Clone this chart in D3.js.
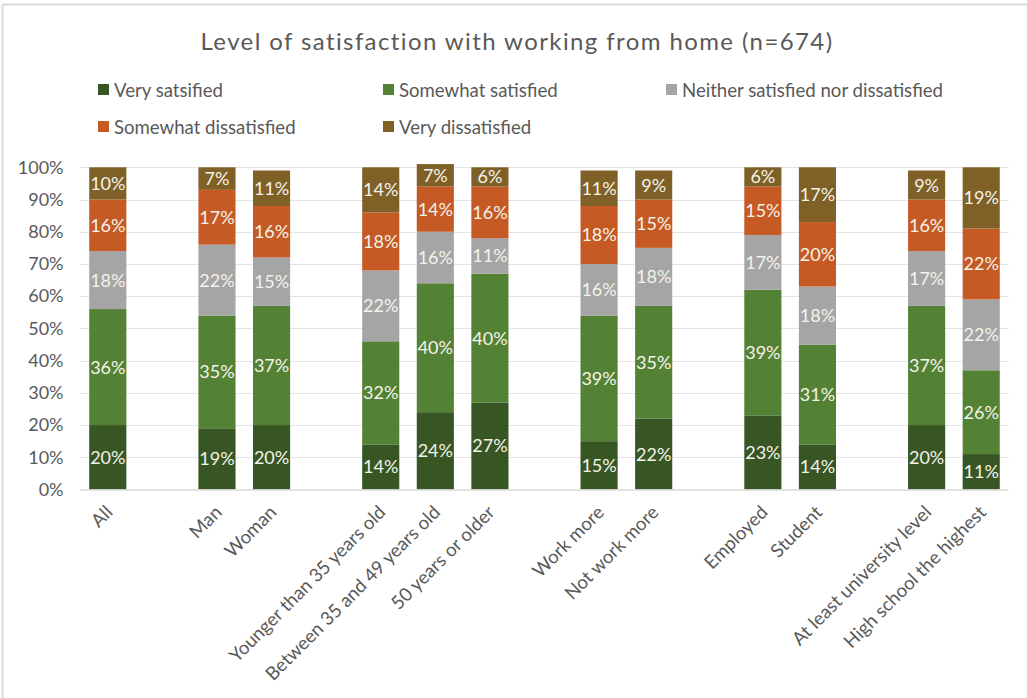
<!DOCTYPE html>
<html>
<head>
<meta charset="utf-8">
<script src="https://cdn.jsdelivr.net/npm/d3@7"></script>
<style>
  html, body { margin: 0; padding: 0; background: #fff; }
  svg { display: block; font-family: Lato, "Open Sans", sans-serif; }
</style>
</head>
<body>
<svg id="chart" width="1027" height="698"></svg>
<script>
// Respondent groups; an empty slot is left between each group
const groups = [
  ["All"],
  ["Man", "Woman"],
  ["Younger than 35 years old", "Between 35 and 49 years old", "50 years or older"],
  ["Work more", "Not work more"],
  ["Employed", "Student"],
  ["At least university level", "High school the highest"]
];
const categories = groups.flat();

const seriesNames = [
  "Very satsified",
  "Somewhat satisfied",
  "Neither satisfied nor dissatisfied",
  "Somewhat dissatisfied",
  "Very dissatisfied"
];

// Shares in percent, one value per category
const verySatisfied     = [20, 19, 20, 14, 24, 27, 15, 22, 23, 14, 20, 11];
const somewhatSatisfied = [36, 35, 37, 32, 40, 40, 39, 35, 39, 31, 37, 26];
const neither           = [18, 22, 15, 22, 16, 11, 16, 18, 17, 18, 17, 22];
const somewhatDissat    = [16, 17, 16, 18, 14, 16, 18, 15, 15, 20, 16, 22];
const veryDissat        = [10,  7, 11, 14,  7,  6, 11,  9,  6, 17,  9, 19];

const yTicks = [0, 10, 20, 30, 40, 50, 60, 70, 80, 90, 100];

const colors = ["#375623", "#548235", "#a5a5a5", "#c55a24", "#7f6026"];
const textGrey = "#595959";

const seriesValues = [verySatisfied, somewhatSatisfied, neither, somewhatDissat, veryDissat];
const rows = categories.map((c, i) => {
  const r = { category: c };
  seriesNames.forEach((s, k) => { r[s] = seriesValues[k][i]; });
  return r;
});
const stacked = d3.stack().keys(seriesNames)(rows);

// Slot order with gap slots between groups
const slots = [];
groups.forEach((g, gi) => {
  if (gi > 0) slots.push("__gap" + gi);
  g.forEach(c => slots.push(c));
});

const svg = d3.select("#chart");
const W = 1027, H = 698;

// frame edges
svg.append("line").attr("x1", 2.5).attr("x2", W).attr("y1", 4.5).attr("y2", 4.5)
  .attr("stroke", "#d9d9d9").attr("stroke-width", 2);
svg.append("line").attr("x1", 2.5).attr("x2", 2.5).attr("y1", 4.5).attr("y2", H)
  .attr("stroke", "#d9d9d9").attr("stroke-width", 2);

const plot = { left: 80.5, right: 1008.5, top: 167.3, bottom: 489.5 };

const x = d3.scaleBand().domain(slots).range([plot.left, plot.right]).paddingInner(0.32).paddingOuter(0.16);
const y = d3.scaleLinear().domain([0, 100]).range([plot.bottom, plot.top]);

// title
svg.append("text")
  .attr("x", 517).attr("y", 50)
  .attr("text-anchor", "middle")
  .attr("fill", textGrey)
  .attr("font-size", 24)
  .attr("letter-spacing", 1.4)
  .text("Level of satisfaction with working from home (n=674)");

// legend
const legendPos = [[98, 90], [383, 90], [666, 90], [98, 127], [383, 127]];
seriesNames.forEach((s, i) => {
  const [lx, ly] = legendPos[i];
  const g = svg.append("g").attr("transform", `translate(${lx},${ly})`);
  g.append("rect").attr("x", 0).attr("y", -6).attr("width", 11).attr("height", 11).attr("fill", colors[i]);
  g.append("text").attr("x", 16).attr("y", 0).attr("dy", "0.35em")
    .attr("fill", textGrey).attr("font-size", 18.6).text(s);
});

// gridlines
svg.append("g")
  .selectAll("line")
  .data(yTicks.filter(t => t > 0))
  .join("line")
  .attr("x1", plot.left).attr("x2", plot.right)
  .attr("y1", d => Math.round(y(d)) + 0.5).attr("y2", d => Math.round(y(d)) + 0.5)
  .attr("stroke", "#e4e4e4").attr("stroke-width", 1.2);

// y axis labels
const yAxis = d3.axisLeft(y).tickValues(yTicks).tickFormat(d => d + "%").tickSize(0).tickPadding(0);
const yg = svg.append("g").attr("transform", `translate(${plot.left - 17},0)`).call(yAxis);
yg.select(".domain").remove();
yg.selectAll("text").attr("fill", textGrey).attr("font-size", 18).attr("font-family", "Lato, sans-serif");

// bars
const layer = svg.append("g").selectAll("g")
  .data(stacked)
  .join("g")
  .attr("fill", (d, i) => colors[i]);

layer.selectAll("rect")
  .data(d => d)
  .join("rect")
  .attr("x", d => x(d.data.category))
  .attr("width", x.bandwidth())
  .attr("y", d => y(d[1]))
  .attr("height", d => y(d[0]) - y(d[1]));

// value labels
layer.selectAll("text")
  .data(d => d)
  .join("text")
  .attr("x", d => x(d.data.category) + x.bandwidth() / 2)
  .attr("y", d => (y(d[0]) + y(d[1])) / 2)
  .attr("dy", "0.36em")
  .attr("text-anchor", "middle")
  .attr("fill", "#f4f2ea")
  .attr("font-size", 18)
  .text(d => (d[1] - d[0]) + "%");

// baseline
svg.append("line")
  .attr("x1", plot.left).attr("x2", plot.right)
  .attr("y1", plot.bottom + 0.5).attr("y2", plot.bottom + 0.5)
  .attr("stroke", "#d9d9d9").attr("stroke-width", 1.5);

// category labels
const xAxis = d3.axisBottom(x).tickValues(categories).tickSize(0).tickPadding(0);
const xg = svg.append("g").attr("transform", `translate(0,${plot.bottom})`).call(xAxis);
xg.select(".domain").remove();
xg.selectAll("text")
  .attr("fill", textGrey)
  .attr("font-size", 18.6)
  .attr("font-family", "Lato, sans-serif")
  .attr("text-anchor", "end")
  .attr("dy", 0)
  .attr("transform", "translate(6,24) rotate(-45)");
</script>
</body>
</html>
